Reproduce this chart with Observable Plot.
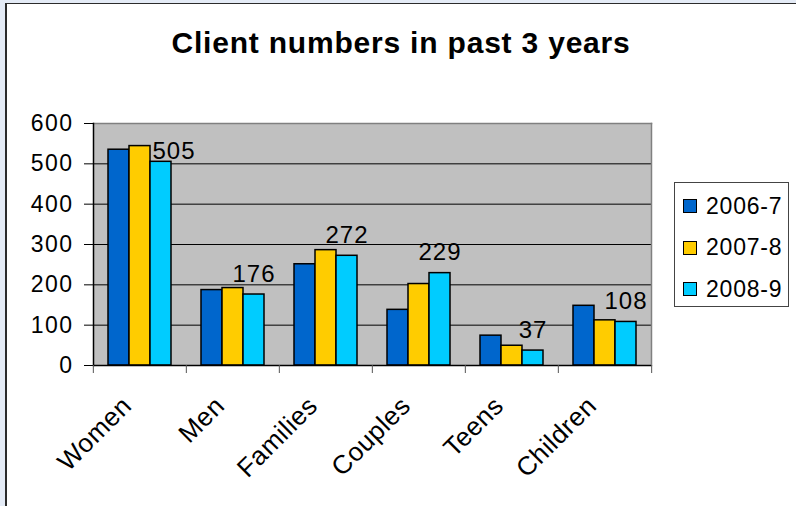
<!DOCTYPE html>
<html><head><meta charset="utf-8">
<script src="https://cdn.jsdelivr.net/npm/d3@7"></script>
<script src="https://cdn.jsdelivr.net/npm/@observablehq/plot@0.6"></script>
<style>
html,body{margin:0;padding:0;}
body{width:796px;height:506px;background:#e4ebf6;position:relative;overflow:hidden;font-family:"Liberation Sans",Arial,sans-serif;color:#000;}
#card{position:absolute;left:5px;top:3px;right:0;bottom:0;background:#fff;border-left:2px solid #2b2b2b;border-top:1.5px solid #2b2b2b;}
#chart{position:absolute;left:0;top:0;}
#title{position:absolute;left:0;width:802px;top:28px;line-height:30px;text-align:center;font-weight:bold;font-size:30px;letter-spacing:0.8px;}
#legend{position:absolute;left:674px;top:182px;width:115px;height:125px;border:1px solid #444;box-sizing:border-box;background:#fff;}
#legend .row{position:absolute;left:8px;height:24px;display:flex;align-items:center;font-size:23px;letter-spacing:0.8px;}
#legend .sw{width:12px;height:12px;border:1.5px solid #000;margin-right:9px;}
g[aria-label="y-axis tick label"] text{letter-spacing:1.5px;}
g.cat text{letter-spacing:0.5px;}
g.val text{letter-spacing:1px;}
</style></head><body>
<div id="card"></div>
<div id="title">Client numbers in past 3 years</div>
<div id="chart"></div>
<div id="legend"></div>
<script>
const categories = ["Women", "Men", "Families", "Couples", "Teens", "Children"];
const series = ["2006-7", "2007-8", "2008-9"];
const values2006 = [535, 187, 251, 138, 74, 148];
const values2007 = [544, 192, 286, 202, 49, 112];
const values2008 = [505, 176, 272, 229, 37, 108];
const colors = ["#0066CC", "#FFCC00", "#00CCFF"];
const yTicks = [0, 100, 200, 300, 400, 500, 600];
const gridValues = [100, 200, 300, 400, 500];
const labelledSeries = "2008-9";

const seriesValues = [values2006, values2007, values2008];
const data = categories.flatMap((c, i) => series.map((s, j) => ({category: c, series: s, value: seriesValues[j][i]})));
const labels = data.filter(d => d.series === labelledSeries);

const W = 796, H = 506, mL = 92, mR = 144, mT = 123, mB = 141;
const step = (W - mL - mR) / categories.length;

const chart = Plot.plot({
  width: W, height: H, marginLeft: mL, marginRight: mR, marginTop: mT, marginBottom: mB,
  style: {background: "none", overflow: "visible", fontFamily: "'Liberation Sans', Arial, sans-serif", color: "#000"},
  fx: {domain: categories, padding: 0, label: null, axis: null},
  x: {domain: series, paddingInner: 0, paddingOuter: 0.68, axis: null},
  y: {domain: [0, 600], axis: null},
  color: {domain: series, range: colors},
  marks: [
    Plot.frame({facet: "super", fill: "#c0c0c0"}),
    Plot.ruleY(gridValues, {stroke: "#000", strokeWidth: 1}),
    Plot.frame({facet: "super", anchor: "top", stroke: "#808080", strokeWidth: 1.5}),
    Plot.frame({facet: "super", anchor: "right", stroke: "#808080", strokeWidth: 1.5}),
    Plot.barY(data, {fx: "category", x: "series", y: "value", fill: "series", stroke: "#000", strokeWidth: 1.5}),
    Plot.ruleY([0], {stroke: "#000", strokeWidth: 1.5}),
    Plot.frame({facet: "super", anchor: "left", stroke: "#000", strokeWidth: 1.5}),
    Plot.axisY({ticks: yTicks, tickSize: 9, tickPadding: 11, fontSize: 23, label: null, stroke: "#000"}),
    Plot.axisFx({anchor: "bottom", tickSize: 8, tickFormat: () => "", dx: -step / 2, stroke: "#555", label: null}),
    Plot.axisFx({anchor: "bottom", ticks: [categories[categories.length - 1]], tickSize: 8, tickFormat: () => "", dx: step / 2, stroke: "#555", label: null}),
    Plot.text(categories, {fx: d => d, text: d => d, frameAnchor: "bottom", dy: 42, dx: -7, rotate: -45, textAnchor: "end", lineAnchor: "bottom", fontSize: 26, className: "cat"}),
    Plot.text(labels.filter(d => d.category !== categories[0]), {fx: "category", x: "series", y: "value", text: d => String(d.value), lineAnchor: "bottom", dy: -13, fontSize: 24, className: "val"}),
    Plot.text(labels.filter(d => d.category === categories[0]), {fx: "category", x: "series", y: "value", text: d => String(d.value), lineAnchor: "bottom", dy: -3, dx: 13, fontSize: 24, className: "val"})
  ]
});
document.getElementById("chart").appendChild(chart);

const leg = d3.select("#legend");
series.forEach((s, i) => {
  const row = leg.append("div").attr("class", "row").style("top", (11 + i * 41.5) + "px");
  row.append("span").attr("class", "sw").style("background", colors[i]);
  row.append("span").text(s);
});
</script>
</body></html>
